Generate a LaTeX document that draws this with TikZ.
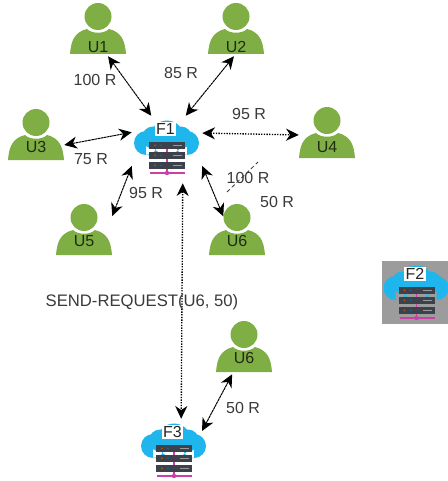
\documentclass[tikz,border=0pt]{standalone}
\usepackage{fontspec}
\setmainfont{Liberation Sans}
\usetikzlibrary{arrows.meta}
\definecolor{usergreen}{HTML}{7FAE45}
\definecolor{cloudblue}{HTML}{1FB6EE}
\definecolor{rackdark}{HTML}{3C414B}
\definecolor{rackpink}{HTML}{CC3FA4}
\definecolor{boxgray}{HTML}{9C9C9C}
\definecolor{txtgray}{HTML}{3A3A3A}
\tikzset{
	txt/.style={text=txtgray,font=\fontsize{12}{14}\selectfont,inner sep=0pt},
	userlabel/.style={text=black!75!usergreen,font=\fontsize{12}{14}\selectfont,inner sep=0pt},
	link/.style={<->,line width=0.75pt,dash pattern=on 2pt off 0.4pt},
	dotlink/.style={<->,line width=1pt,densely dotted},
	usericon/.pic={
		\fill[usergreen] (-28,27) .. controls (-27,16) and (-25,8) .. (-15.5,3.5) -- (-11,2)
			.. controls (-6,7) and (6,7) .. (11,2) -- (15.5,3.5)
			.. controls (25,8) and (27,16) .. (28,27) -- cycle;
		\node[circle,fill=usergreen,inner sep=0pt,minimum size=20.25pt] (-head) at (0,-10.5) {};
		\node[inner sep=0pt,minimum width=42pt,minimum height=43.5pt] (-box) at (0,0) {};
	},
	cloudserver/.pic={
		\fill[cloudblue] (0,-12) circle(17) (-21,-6.5) circle(12) (20,-6.5) circle(12)
			(-14,-12) circle(11) (14,-12) circle(11) (-21,-6) rectangle (20,5.5);
		\foreach \y in {-7.8,2.2,12.2}{
			\fill[rackdark] (-18,\y) rectangle (18,\y+7.3);
			\fill[orange!70!black] (-12,\y+3.6) circle(1);
			\fill[cloudblue!60!black] (-6,\y+3.6) circle(1);
			\fill[black!40] (6,\y+2.8) rectangle (15,\y+4.6);
		}
		\draw[rackpink,line width=0.8pt] (0,-0.5)--(0,2.2) (0,9.5)--(0,12.2) (0,19.5)--(0,23.5);
		\draw[rackpink,line width=1.3pt] (-17,23.5)--(18,23.5);
		\fill[rackpink] (0,23.5) circle(2.2);
		\node[fill=white,text=black!85,inner sep=1pt,font=\fontsize{12}{14}\selectfont] (-label) at (-1.5,-20.5) {#1};
		\node[inner sep=0pt,minimum width=52.5pt,minimum height=50.25pt] (-box) at (0,0) {};
		\coordinate (-right) at (28,-21.5);
	},
}
\begin{document}
\begin{tikzpicture}[x=0.75pt,y=-0.75pt,>={Stealth[length=9.5pt,width=9pt,inset=3pt]}]
	\useasboundingbox (0,0) rectangle (448,481);
	\foreach \n/\t/\x/\y/\l in {u1/U1/98/27/47,u2/U2/236/27/47,u3/U3/36/133/147,u4/U4/327/131/147,u5/U5/84/228/241,u6/U6/237/228/241,u6b/U6/244/345/358}{
		\pic (\n) at (\x,\y) {usericon};
		\node[userlabel] (\n-label) at (\x,\l) {\t};
	}
	\node[fill=boxgray,inner sep=0pt,minimum width=49.5pt,minimum height=47.25pt] (f2back) at (415,292.5) {};
	\pic (f1) at (167,149.5) {cloudserver=F1};
	\pic (f2) at (416.5,294.5) {cloudserver=F2};
	\pic (f3) at (174,452.5) {cloudserver=F3};
	\draw[link] (u1-box.-71)--(f1-box.115.5);
	\draw[link] (u2-box.-94)--(f1-box.61.8);
	\draw[link] (u3-box.-23)--(f1-box.154.8);
	\draw[dotlink] (f1-box.25.2)--(u4-box.188);
	\draw[link] (u5-box.23)--(f1-box.205.2);
	\draw[link] (f1-box.-25.2)--(u6-head.175);
	\draw[dotlink] (f1-box.-65.9)--(f3-box.78);
	\draw[link] (f3-right)--(u6b-box.-112.5);
	\draw[txtgray,line width=0.6pt,densely dashed] (227,192)--(258,162);%strike
	\node[txt] (r1) at (95,80) {100 R};
	\node[txt] (r2) at (181,73) {85 R};
	\node[txt] (r3) at (91,159) {75 R};
	\node[txt] (r4) at (249,114) {95 R};
	\node[txt] (r5) at (146,193) {95 R};
	\node[txt] (r6) at (248,178) {100 R};
	\node[txt] (r7) at (277,202) {50 R};
	\node[txt] (r8) at (243,408) {50 R};
	\node[txt,font=\fontsize{12.5}{14}\selectfont] (req) at (142,302) {SEND-REQUEST(U6, 50)};
\end{tikzpicture}
\end{document}
